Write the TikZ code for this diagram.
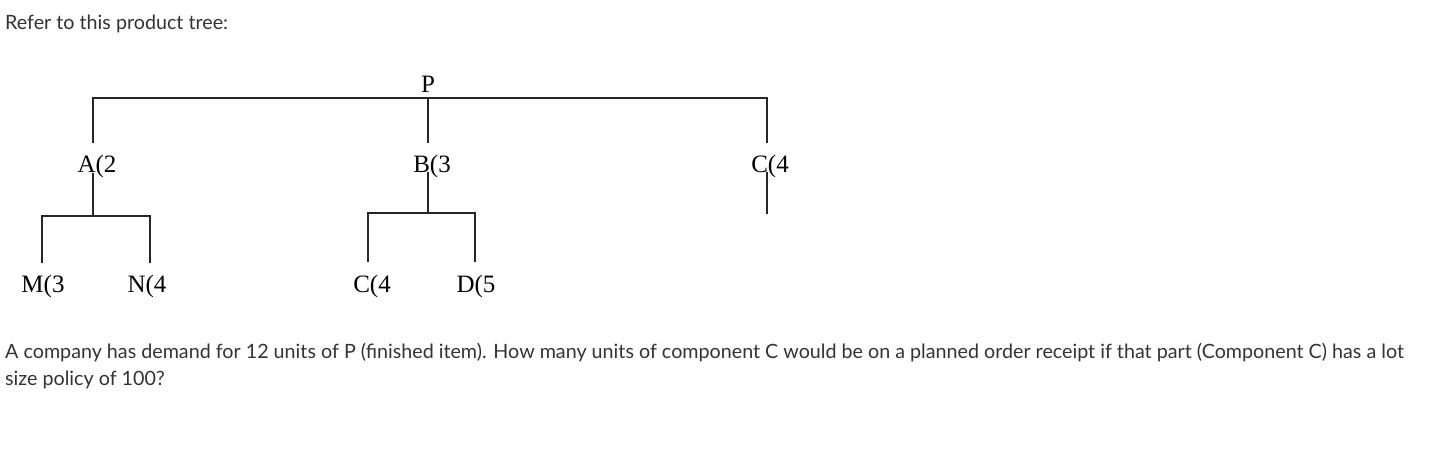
\documentclass[tikz,border=0pt]{standalone}
\usepackage{fontspec}
\setmainfont{Liberation Serif}
\newfontfamily\bodyfont{Lato}
\usepackage{tikz}

\begin{document}
\begin{tikzpicture}[x=1pt, y=-1pt,
        part/.style={anchor=base, inner sep=0pt, font=\fontsize{25}{25}\selectfont},
        body/.style={anchor=base west, inner sep=0pt, text=black!80,
                     font=\bodyfont\fontsize{19.7}{27}\selectfont},
        link/.style={black!85, line width=1.4pt}]

    \useasboundingbox (0,0) rectangle (1448,462);

    \node[body] (intro) at (5,30) {Refer to this product tree:};

    \node[part] (P) at (428,93) {P};
    \node[part] (A) at (97,173) {A(2};
    \node[part] (B) at (432,173) {B(3};
    \node[part] (C) at (770,173) {C(4};
    \node[part] (M) at (43,293) {M(3};
    \node[part] (N) at (147,293) {N(4};
    \node[part] (CB) at (372,293) {C(4};
    \node[part] (D) at (476,293) {D(5};

    \coordinate (jP) at (428,98);
    \coordinate (aTop) at (93,143);
    \coordinate (bTop) at (428,143);
    \coordinate (cTop) at (767,143);
    \coordinate (aLow) at (93,173);
    \coordinate (bLow) at (428,172);
    \coordinate (cLow) at (767,172);
    \coordinate (jA) at (93,216);
    \coordinate (jB) at (428,213);
    \coordinate (cEnd) at (767,214);
    \coordinate (mTop) at (42,263);
    \coordinate (nTop) at (150,263);
    \coordinate (cbTop) at (368,262);
    \coordinate (dTop) at (475,262);

    \draw[link] (aTop) |- (jP) -| (cTop);
    \draw[link] (jP) -- (bTop);
    \draw[link] (aLow) -- (jA);
    \draw[link] (mTop) |- (jA) -| (nTop);
    \draw[link] (bLow) -- (jB);
    \draw[link] (cbTop) |- (jB) -| (dTop);
    \draw[link] (cLow) -- (cEnd);

    \node[body] (question) at (5,358) {A company has demand for 12 units of P (finished item). How many units of component C would be on a planned order receipt if that part (Component C) has a lot};
    \node[body] (question2) at (5,385) {size policy of 100?};

\end{tikzpicture}
\end{document}
